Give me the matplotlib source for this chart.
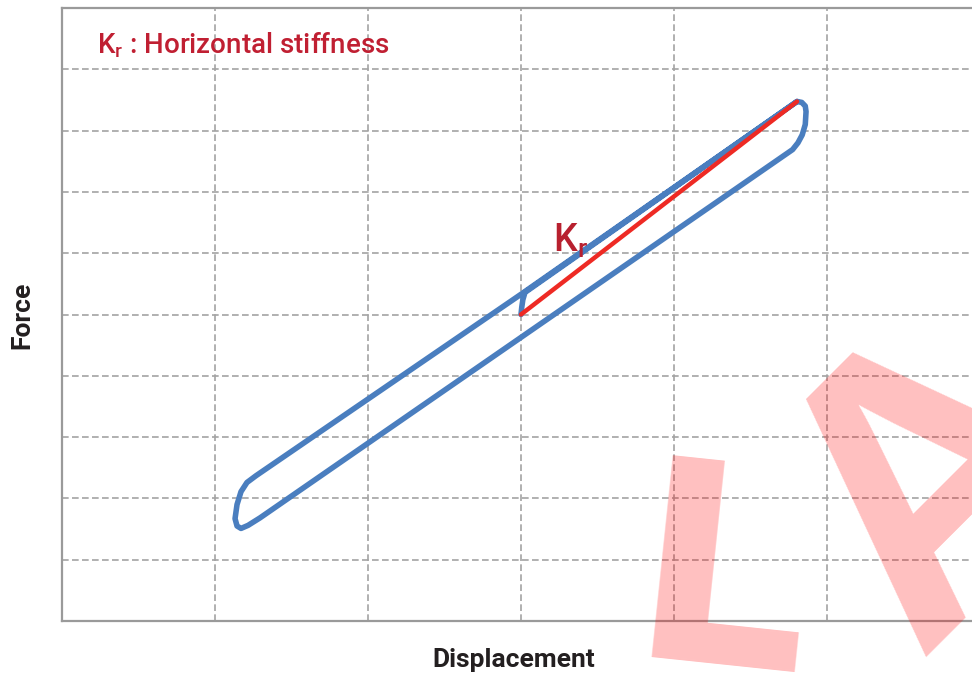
import matplotlib
matplotlib.use("Agg")
import matplotlib.pyplot as plt
import numpy as np

# ---- data (grid units: displacement, force) ----
loop_x = [0.000, 0.005, 0.012, 0.026, 1.804, 1.835, 1.858, 1.863, 1.858, 1.838, 1.810, 1.775,
          -1.706, -1.784, -1.830, -1.856, -1.869, -1.856, -1.830, -1.791, -1.732, 0.000, 1.804]
loop_y = [0.000, 0.120, 0.240, 0.360, 3.475, 3.460, 3.400, 3.310, 3.100, 2.930, 2.800, 2.690,
          -3.318, -3.440, -3.490, -3.450, -3.330, -3.100, -2.890, -2.740, -2.630, 0.330, 3.475]
kr_x = [0.0, 1.804]
kr_y = [0.0, 3.475]
x_grid = [-2, -1, 0, 1, 2]
y_grid = [-4, -3, -2, -1, 0, 1, 2, 3, 4]

COND = ['Roboto', 'DejaVu Sans']

fig = plt.figure(figsize=(9.72, 6.80), dpi=100)
W, H = 972.0, 680.0
ax = fig.add_axes([62 / W, (H - 621) / H, (980 - 62) / W, (621 - 8) / H])
ax.set_xlim(-3, 3)
ax.set_ylim(-5, 5)
ax.set_xticks(x_grid)
ax.set_yticks(y_grid)
ax.tick_params(length=0, labelbottom=False, labelleft=False)
ax.grid(True, color='#a3a3a3', linestyle=(0, (4, 2)), linewidth=1.2)
for s in ax.spines.values():
    s.set_color('#9a9a9a')
    s.set_linewidth(1.6)

ax.plot(loop_x, loop_y, color='#4a7ebf', linewidth=4.0, solid_joinstyle='round',
        solid_capstyle='round', zorder=3)
ax.plot(kr_x, kr_y, color='#ee2a24', linewidth=3.2, solid_capstyle='round', zorder=4)

ax.text(0.21, 1.03, r'$\mathregular{K_r}$', color='#b8202f', fontsize=27,
        family=COND, fontweight='medium', ha='left', va='baseline', zorder=5)
fig.text(97 / W, 1 - 53 / H, r'$\mathregular{K_r}$ : Horizontal stiffness', color='#c01f32',
         fontsize=20, family=COND, fontweight='medium', ha='left', va='baseline')

fig.text(514 / W, 1 - 667 / H, 'Displacement', color='#231f20', fontsize=19,
         family=COND, fontweight='bold', ha='center', va='baseline')
fig.text(22 / W, 1 - 315 / H, 'Force', color='#231f20', fontsize=19, rotation=90,
         family=COND, fontweight='bold', ha='center', va='center')

# watermark
fig.text(722 / W, 1 - 590 / H, 'L', color='red', alpha=0.25, fontsize=200,
         family='DejaVu Sans', fontweight='bold', rotation=-6, ha='center', va='center',
         rotation_mode='anchor', zorder=10)
fig.text(945 / W, 1 - 487 / H, 'A', color='red', alpha=0.25, fontsize=280,
         family='Liberation Sans', fontweight='bold', rotation=45, ha='center', va='center',
         rotation_mode='anchor', zorder=10)

fig.savefig('out.png', dpi=100)
